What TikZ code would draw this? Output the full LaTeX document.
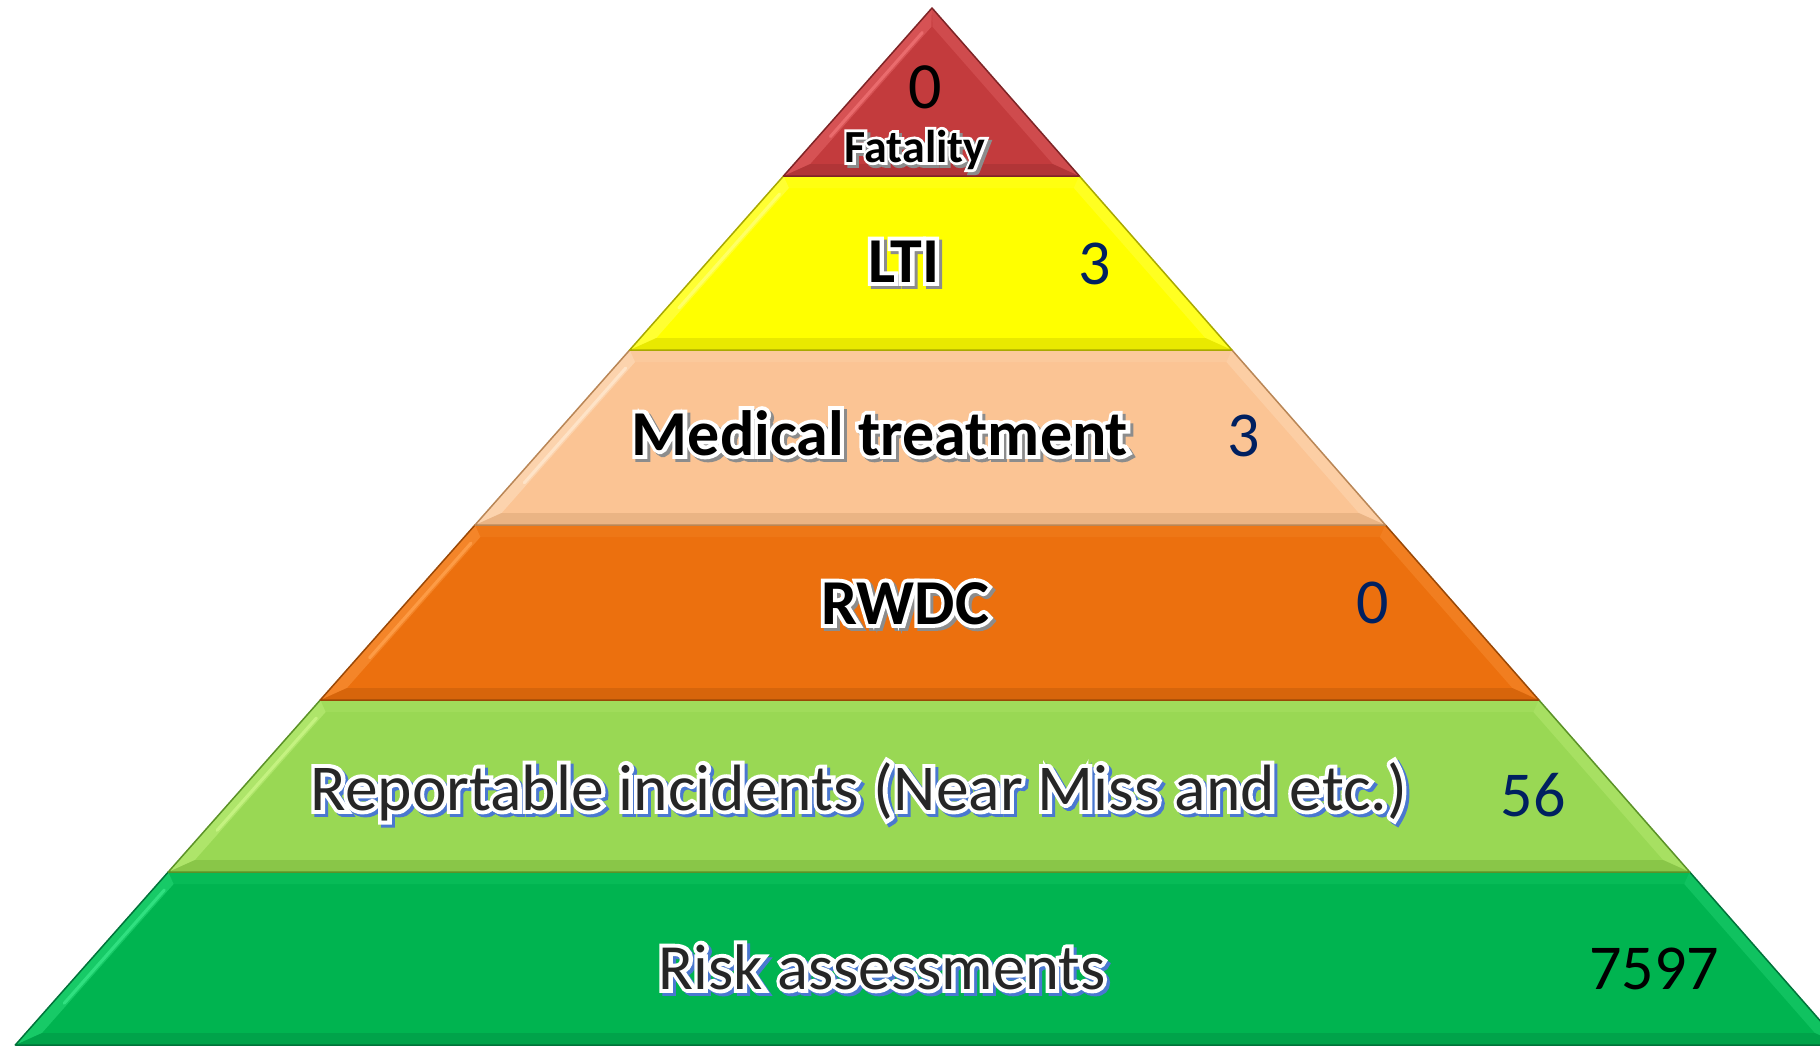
\documentclass[tikz,border=0pt]{standalone}
\usepackage{fontspec}
\setmainfont{Carlito}
\usetikzlibrary{calc}
\definecolor{redB}{HTML}{C33B3D}\definecolor{redL}{HTML}{EE7072}\definecolor{redD}{HTML}{7E2426}
\definecolor{yelB}{HTML}{FFFF00}\definecolor{yelL}{HTML}{FFFF70}\definecolor{yelD}{HTML}{A8A800}
\definecolor{peaB}{HTML}{FBC494}\definecolor{peaL}{HTML}{FFE6CC}\definecolor{peaD}{HTML}{B98656}
\definecolor{oraB}{HTML}{EC700E}\definecolor{oraL}{HTML}{FFA04A}\definecolor{oraD}{HTML}{9A4806}
\definecolor{lgrB}{HTML}{99D854}\definecolor{lgrL}{HTML}{C8F585}\definecolor{lgrD}{HTML}{5B9227}
\definecolor{grnB}{HTML}{00B450}\definecolor{grnL}{HTML}{35E585}\definecolor{grnD}{HTML}{00733A}
\definecolor{numBlue}{HTML}{002060}
\definecolor{txtGrey}{HTML}{262626}
\definecolor{shBlue}{HTML}{4A78D0}
\definecolor{shGrey}{HTML}{8C8C8C}
\tikzset{
  lbl/.style={anchor=base,inner sep=0pt,outer sep=0pt},
  numlbl/.style={lbl,font=\fontsize{64}{70}\selectfont},
}
\newcommand\bigfont{\fontsize{65.5}{70}\selectfont}
\newcommand\riskfont{\fontsize{64.5}{70}\selectfont}
\newcommand\boldbig{\bfseries\fontsize{64}{70}\selectfont}
\newcommand\fatfont{\bfseries\fontsize{46}{50}\selectfont}
\newcommand\halo{\addfontfeatures{FakeBold=12}}
% outlined label: #1 name, #2 position, #3 font, #4 fill colour, #5 shadow colour, #6 text
\newcommand\outlbl[6]{%
  \node[lbl,font=#3\halo,text=#5] at ($(#2)+(3,3)$) {#6};
  \node[lbl,font=#3\halo,text=white] at (#2) {#6};
  \node[lbl,font=#3,text=#4] (#1) at (#2) {#6};
}
% layer: #1 top y, #2 bottom y, #3 base, #4 light, #5 dark
\newcommand\layer[5]{%
  \pgfmathsetmacro\lt{932-0.884*(#1-8)}\pgfmathsetmacro\rt{932+0.877*(#1-8)}%
  \pgfmathsetmacro\lb{932-0.884*(#2-8)}\pgfmathsetmacro\rb{932+0.877*(#2-8)}%
  \pgfmathsetmacro\iy{max(#1+12,27)}\pgfmathsetmacro\iby{#2-12}%
  \pgfmathsetmacro\ilt{932-0.884*(\iy-8)+16}\pgfmathsetmacro\irt{932+0.877*(\iy-8)-16}%
  \pgfmathsetmacro\ilb{932-0.884*(\iby-8)+16}\pgfmathsetmacro\irb{932+0.877*(\iby-8)-16}%
  \fill[#3] (\lt,#1) -- (\rt,#1) -- (\rb,#2) -- (\lb,#2) -- cycle;
  \fill[#4,opacity=.45] (\lt,#1) -- (\ilt,\iy) -- (\ilb,\iby) -- (\lb,#2) -- cycle;
  \fill[#4,opacity=.3] (\rt,#1) -- (\irt,\iy) -- (\irb,\iby) -- (\rb,#2) -- cycle;
  \fill[#4,opacity=.15] (\lt,#1) -- (\ilt,\iy) -- (\irt,\iy) -- (\rt,#1) -- cycle;
  \fill[#5,opacity=.25] (\lb,#2) -- (\ilb,\iby) -- (\irb,\iby) -- (\rb,#2) -- cycle;
  \draw[#4,line width=3pt,opacity=.85,line cap=round] ($(\ilt,\iy)!0.04!(\ilb,\iby)+(-4,0)$) -- ($(\ilt,\iy)!0.8!(\ilb,\iby)+(-4,0)$);
  \draw[#5,line width=1.5pt,line join=round] (\lt,#1) -- (\rt,#1) -- (\rb,#2) -- (\lb,#2) -- cycle;
}
\begin{document}
\begin{tikzpicture}[x=1pt,y=-1pt]
\useasboundingbox (0,0) rectangle (1820,1047);
\begin{scope}
\clip (0,0) rectangle (1820,1047);
\layer{872}{1045}{grnB}{grnL}{grnD}
\layer{700}{872}{lgrB}{lgrL}{lgrD}
\layer{525}{700}{oraB}{oraL}{oraD}
\layer{350}{525}{peaB}{peaL}{peaD}
\layer{176}{350}{yelB}{yelL}{yelD}
\layer{8}{176}{redB}{redL}{redD}
\end{scope}
% labels
\node[lbl,font=\fontsize{66}{70}\selectfont,text=black] (nFat) at (925,108) {0};
\outlbl{tFat}{915,162}{\fatfont}{black}{shGrey}{Fatality}
\outlbl{tLTI}{904,282}{\boldbig}{black}{shGrey}{LTI}
\node[numlbl,text=numBlue] (nLTI) at (1095,284) {3};
\outlbl{tMed}{880,455}{\boldbig}{black}{shGrey}{Medical treatment}
\node[numlbl,text=numBlue] (nMed) at (1244,456) {3};
\outlbl{tRW}{905,624}{\boldbig}{black}{shGrey}{RWDC}
\node[numlbl,text=numBlue] (nRW) at (1373,623) {0};
\outlbl{tRep}{859,810}{\bigfont}{txtGrey}{shBlue}{Reportable incidents (Near Miss and etc.)}
\node[numlbl,text=numBlue] (nRep) at (1533,816) {56};
\outlbl{tRisk}{882,989}{\riskfont}{txtGrey}{shBlue}{Risk assessments}
\node[numlbl,text=black] (nRisk) at (1654,989) {7597};
\end{tikzpicture}
\end{document}
